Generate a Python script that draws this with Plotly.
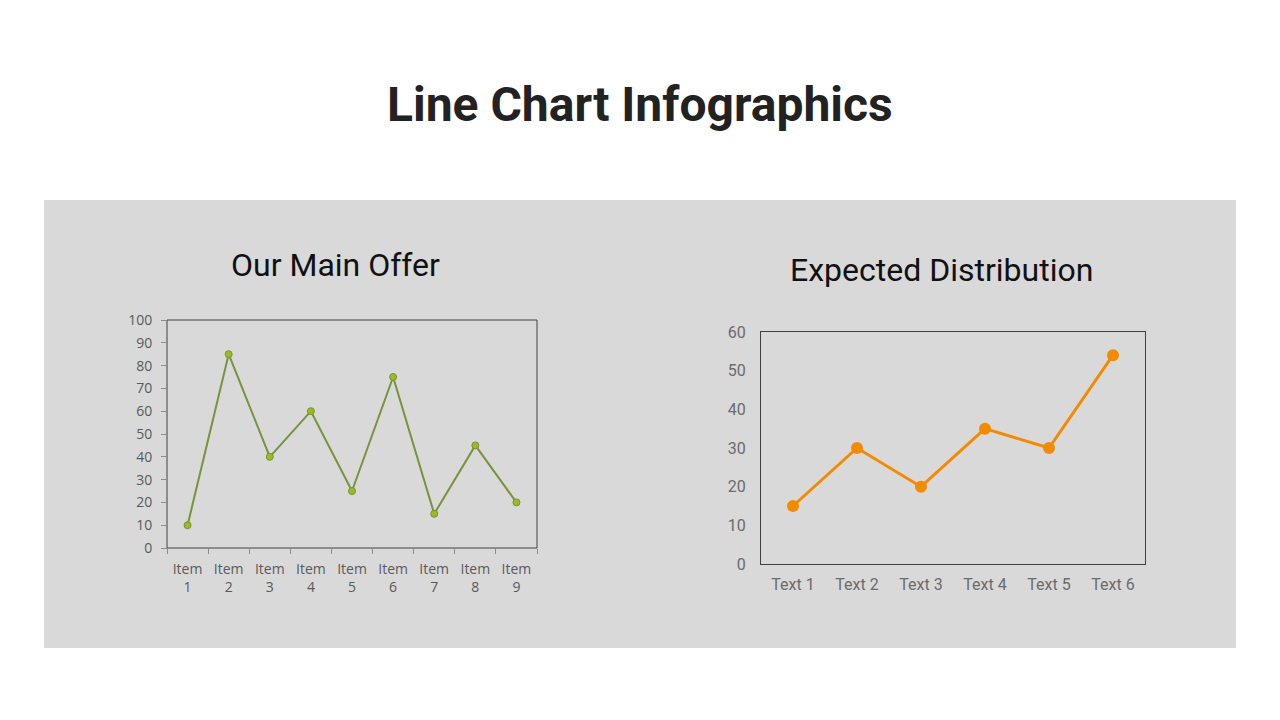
import plotly.graph_objects as go

# === DADOS ===
offer_items = ["Item<br>1", "Item<br>2", "Item<br>3", "Item<br>4", "Item<br>5",
               "Item<br>6", "Item<br>7", "Item<br>8", "Item<br>9"]
offer_values = [10, 85, 40, 60, 25, 75, 15, 45, 20]

dist_labels = ["Text 1", "Text 2", "Text 3", "Text 4", "Text 5", "Text 6"]
dist_values = [15, 30, 20, 35, 30, 54]

W, H = 1280, 720
OFF = 8  # margem do <body> da pagina
PANEL = "#D9D9D9"


def px_x(v):
    return (v - OFF) / W


def px_y(v):
    # pixel (de cima) -> paper (de baixo)
    return 1 - (v - OFF) / H


fig = go.Figure()

# grafico da esquerda
fig.add_trace(go.Scatter(
    x=offer_items, y=offer_values, xaxis="x", yaxis="y",
    mode="lines+markers",
    line=dict(color="#77933C", width=2),
    marker=dict(size=7, color="#9BBB1F", line=dict(color="#77933C", width=1)),
    showlegend=False,
))

# grafico da direita
fig.add_trace(go.Scatter(
    x=dist_labels, y=dist_values, xaxis="x2", yaxis="y2",
    mode="lines+markers",
    line=dict(color="#F38B00", width=3),
    marker=dict(size=12, color="#F38B00"),
    showlegend=False,
))

left_font = dict(family="Open Sans, DejaVu Sans", size=14, color="#595959")
right_font = dict(family="Roboto", size=16, color="#6B6B6B")

fig.update_layout(
    width=W, height=H,
    margin=dict(l=0, r=0, t=0, b=0, autoexpand=False),
    paper_bgcolor="white",
    plot_bgcolor=PANEL,
    xaxis=dict(
        domain=[px_x(167), px_x(537)], anchor="y", automargin=False,
        type="category", range=[-0.5, 8.5],
        tickson="boundaries", ticks="outside", ticklen=5, tickcolor="#8C8C8C",
        showline=True, linecolor="#8C8C8C", linewidth=1,
        showgrid=False, zeroline=False, tickfont=left_font, ticklabelstandoff=8,
    ),
    yaxis=dict(
        domain=[px_y(548), px_y(320)], anchor="x", automargin=False,
        range=[0, 100], dtick=10,
        ticks="outside", ticklen=5, tickcolor="#8C8C8C",
        showline=True, linecolor="#8C8C8C", linewidth=1,
        showgrid=False, zeroline=False, tickfont=left_font, ticklabelstandoff=6,
    ),
    xaxis2=dict(
        domain=[px_x(761), px_x(1145)], anchor="y2", automargin=False,
        type="category", range=[-0.5, 5.5],
        showline=True, mirror=True, linecolor="#404040", linewidth=1,
        showgrid=False, zeroline=False, tickfont=right_font, ticklabelstandoff=6,
    ),
    yaxis2=dict(
        domain=[px_y(564), px_y(332)], anchor="x2", automargin=False,
        range=[0, 60], dtick=10,
        showline=True, mirror=True, linecolor="#404040", linewidth=1,
        showgrid=False, zeroline=False, tickfont=right_font, ticklabelstandoff=11,
    ),
)

# painel cinza + moldura escura do grafico da esquerda
fig.add_shape(type="rect", xref="paper", yref="paper",
              x0=px_x(44), x1=px_x(1236), y0=px_y(648), y1=px_y(200),
              fillcolor=PANEL, line=dict(width=0), layer="below")
fig.add_shape(type="rect", xref="x domain", yref="y domain",
              x0=0, x1=1, y0=0, y1=1,
              line=dict(color="#404040", width=1), layer="below")

# titulos
titles = [
    ("<b>Line Chart Infographics</b>", 640, 105, 48, "#222222"),
    ("Our Main Offer", 335, 265, 32, "#111111"),
    ("Expected Distribution", 941, 270, 32, "#111111"),
]
for txt, cx, cy, size, color in titles:
    fig.add_annotation(text=txt, xref="paper", yref="paper",
                       x=px_x(cx), y=px_y(cy), xanchor="center", yanchor="middle",
                       showarrow=False,
                       font=dict(family="Roboto", size=size, color=color))

fig.write_html("out.html")
